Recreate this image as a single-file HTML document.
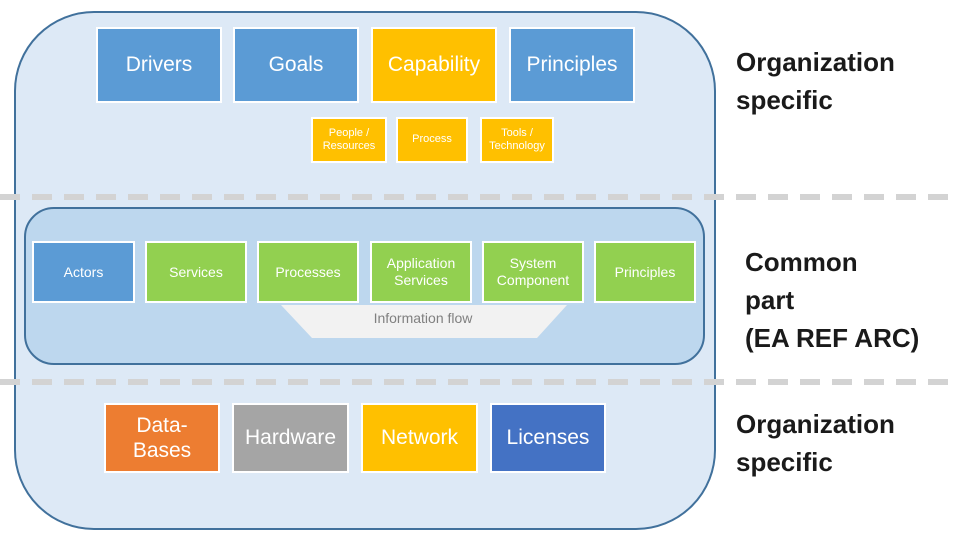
<!DOCTYPE html>
<html><head><meta charset="utf-8"><style>
body{margin:0;width:960px;height:540px;background:#fff;position:relative;overflow:hidden;font-family:"Liberation Sans",sans-serif}
.a{position:absolute}
.b{position:absolute;box-sizing:border-box;border:2px solid #fff;color:#fff;display:flex;align-items:center;justify-content:center;text-align:center;line-height:1.2}
.bl{background:#5b9bd5}.ye{background:#ffc000}.gr{background:#92d050}
.L{font-size:21px}.S{font-size:11px}.M{font-size:14px}
.t{position:absolute;font-weight:bold;font-size:26px;line-height:38px;color:#1a1a1a}
</style></head><body>
<div class="a" style="left:14px;top:11px;width:702px;height:519px;box-sizing:border-box;border:2px solid #41719c;border-radius:80px;background:#dde9f6"></div>
<svg class="a" style="left:0;top:0" width="960" height="540">
<line x1="0" y1="197" x2="960" y2="197" stroke="#d3d3d3" stroke-width="6" stroke-dasharray="20 12"/>
<line x1="0" y1="382" x2="960" y2="382" stroke="#d3d3d3" stroke-width="6" stroke-dasharray="20 12"/>
</svg>
<div class="a" style="left:24px;top:207px;width:681px;height:158px;box-sizing:border-box;border:2px solid #41719c;border-radius:30px;background:#bdd7ee"></div>
<svg class="a" style="left:0;top:0" width="960" height="540">
<polygon points="281,305 567,305 537,338 312,338" fill="#f2f2f2"/>
</svg>
<div class="a" style="left:300px;top:310px;width:246px;text-align:center;font-size:14px;color:#808080">Information flow</div>

<div class="b bl L" style="left:96px;top:27px;width:126px;height:76px">Drivers</div>
<div class="b bl L" style="left:233px;top:27px;width:126px;height:76px">Goals</div>
<div class="b ye L" style="left:371px;top:27px;width:126px;height:76px">Capability</div>
<div class="b bl L" style="left:509px;top:27px;width:126px;height:76px">Principles</div>

<div class="b ye S" style="left:311px;top:117px;width:76px;height:46px">People /<br>Resources</div>
<div class="b ye S" style="left:396px;top:117px;width:72px;height:46px">Process</div>
<div class="b ye S" style="left:480px;top:117px;width:74px;height:46px">Tools /<br>Technology</div>

<div class="b bl M" style="left:32px;top:241px;width:103px;height:62px">Actors</div>
<div class="b gr M" style="left:145px;top:241px;width:102px;height:62px">Services</div>
<div class="b gr M" style="left:257px;top:241px;width:102px;height:62px">Processes</div>
<div class="b gr M" style="left:370px;top:241px;width:102px;height:62px">Application<br>Services</div>
<div class="b gr M" style="left:482px;top:241px;width:102px;height:62px">System<br>Component</div>
<div class="b gr M" style="left:594px;top:241px;width:102px;height:62px">Principles</div>

<div class="b L" style="left:104px;top:403px;width:116px;height:70px;background:#ed7d31">Data-<br>Bases</div>
<div class="b L" style="left:232px;top:403px;width:117px;height:70px;background:#a5a5a5">Hardware</div>
<div class="b ye L" style="left:361px;top:403px;width:117px;height:70px">Network</div>
<div class="b L" style="left:490px;top:403px;width:116px;height:70px;background:#4472c4">Licenses</div>

<div class="t" style="left:736px;top:43px">Organization<br>specific</div>
<div class="t" style="left:745px;top:243px">Common<br>part<br>(EA REF ARC)</div>
<div class="t" style="left:736px;top:405px">Organization<br>specific</div>
</body></html>
